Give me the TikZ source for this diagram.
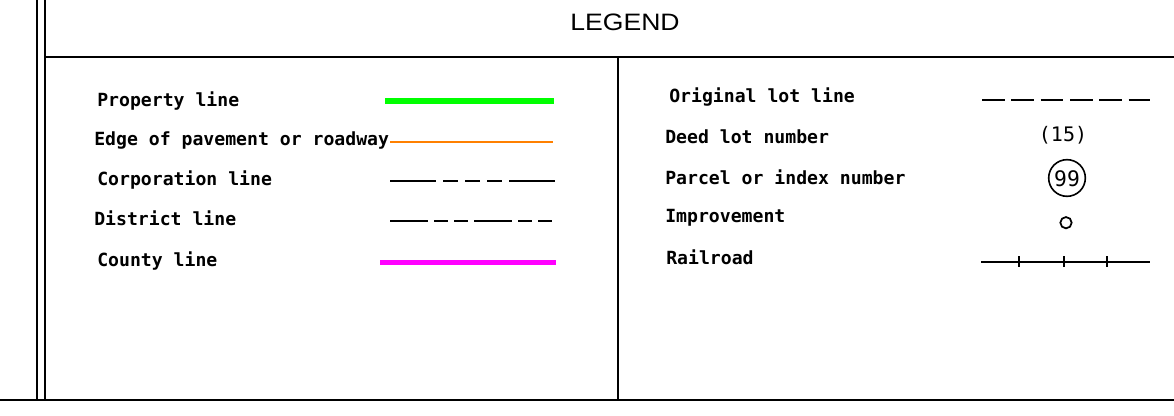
\documentclass[tikz,border=0pt]{standalone}
\usepackage{fontspec}
\setmainfont{Liberation Sans}
\newfontfamily\cadfont{DejaVu Sans Mono}
\definecolor{propgreen}{RGB}{0,255,0}
\definecolor{roadorange}{RGB}{255,128,0}
\definecolor{countymag}{RGB}{255,0,255}
\begin{document}
\begin{tikzpicture}[x=0.75pt,y=-0.75pt,
  frame/.style={line width=1.5pt,black},
  lbl/.style={anchor=base west,inner sep=0pt,font=\cadfont\bfseries\fontsize{13.6pt}{15pt}\selectfont},
  sym/.style={line width=1.5pt,black},
  ttl/.style={anchor=base,inner sep=0pt,font=\fontsize{17.8pt}{20pt}\selectfont,xscale=1.12}]
\useasboundingbox (0,0) rectangle (1174,416);
% frame
\draw[frame] (36.5,0) -- (36.5,400);
\draw[frame] (45,0) -- (45,400);
\draw[frame] (45,57) -- (1174,57);
\draw[frame] (0,400) -- (1174,400);
\draw[frame] (618,57) -- (618,400);
\node[ttl] (title) at (625,31) {LEGEND};
% left labels
\node[lbl] (l1) at (97,107) {Property line};
\node[lbl] (l2) at (94,145.5) {Edge of pavement or roadway};
\node[lbl] (l3) at (97,186) {Corporation line};
\node[lbl] (l4) at (94,225.5) {District line};
\node[lbl] (l5) at (97,267) {County line};
% left symbols
\draw[line width=4.2pt,propgreen] (385,101) -- (553.5,101);
\draw[line width=1.8pt,roadorange] (390,142) -- (553,142);
\draw[sym,dash pattern=on 34.5pt off 5.25pt on 11.25pt off 5.25pt on 11.25pt off 5.25pt on 11.25pt off 5.25pt] (390,181.5) -- (556,181.5);
\draw[sym,dash pattern=on 28.5pt off 4.5pt on 10.5pt off 4.5pt on 10.5pt off 4.5pt] (390,220.7) -- (556,220.7);
\draw[line width=4.2pt,countymag] (380,262.5) -- (556,262.5);
% right labels
\node[lbl] (r1) at (669,102.5) {Original lot line};
\node[lbl] (r2) at (665,143.3) {Deed lot number};
\node[lbl] (r3) at (665,185) {Parcel or index number};
\node[lbl] (r4) at (665,223) {Improvement};
\node[lbl] (r5) at (666,265) {Railroad};
% right symbols
\draw[sym,dash pattern=on 17pt off 5pt] (982,100) -- (1150,100);
\node[anchor=base,inner sep=0pt,font=\cadfont\fontsize{15pt}{17pt}\selectfont] (deed) at (1063,142) {(15)};
\node[draw,circle,line width=1.2pt,minimum size=27.5pt,inner sep=0pt] (parcel) at (1067,178) {};
\node[anchor=center,inner sep=0pt,font=\cadfont\fontsize{16pt}{18pt}\selectfont] (pnum) at (1067,178.5) {99};
\node[draw,circle,line width=1.3pt,minimum size=8.5pt,inner sep=0pt] (impr) at (1066,222.7) {};
\draw[sym] (981,261.7) -- (1150,261.7);
\foreach \tx in {1019,1064,1107} \draw[sym,line width=1.2pt] (\tx,256.5) -- (\tx,267);
\end{tikzpicture}
\end{document}
